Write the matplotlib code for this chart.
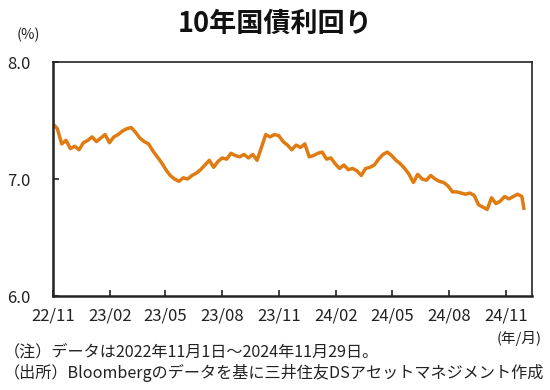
import matplotlib
matplotlib.use("Agg")
import matplotlib.pyplot as plt
import pandas as pd

plt.rcParams['font.family'] = ['Noto Sans CJK JP', 'DejaVu Sans']

title = "10年国債利回り"
unit_label = "(%)"
x_unit = "(年/月)"
note1 = "（注）データは2022年11月1日～2024年11月29日。"
note2 = "（出所）Bloombergのデータを基に三井住友DSアセットマネジメント作成"

# weekly readings starting 2022-11-01, last point 2024-11-29
yields_weekly = [
    7.47, 7.43, 7.30, 7.33, 7.26, 7.28, 7.25, 7.31, 7.33, 7.36,
    7.32, 7.35, 7.38, 7.31, 7.36, 7.38, 7.41, 7.43, 7.44, 7.40,
    7.35, 7.32, 7.30, 7.24, 7.19, 7.14, 7.08, 7.03, 7.00, 6.98,
    7.01, 7.00, 7.03, 7.05, 7.08, 7.12, 7.16, 7.10, 7.15, 7.18,
    7.17, 7.22, 7.20, 7.19, 7.21, 7.18, 7.21, 7.16, 7.27, 7.38,
    7.36, 7.38, 7.37, 7.32, 7.29, 7.25, 7.29, 7.27, 7.30, 7.19,
    7.20, 7.22, 7.23, 7.17, 7.18, 7.13, 7.09, 7.12, 7.08, 7.09,
    7.07, 7.03, 7.09, 7.10, 7.12, 7.17, 7.21, 7.23, 7.20, 7.16,
    7.13, 7.09, 7.04, 6.97, 7.04, 7.00, 6.99, 7.03, 7.00, 6.98,
    6.97, 6.94, 6.89, 6.89, 6.88, 6.87, 6.88, 6.86, 6.78, 6.76,
    6.74, 6.84, 6.79, 6.81, 6.85, 6.83, 6.85, 6.87, 6.85,
]
last_date = "2024-11-29"
last_value = 6.75

tick_months = ["2022-11-01", "2023-02-01", "2023-05-01", "2023-08-01",
               "2023-11-01", "2024-02-01", "2024-05-01", "2024-08-01",
               "2024-11-01"]
tick_labels = ["22/11", "23/02", "23/05", "23/08", "23/11",
               "24/02", "24/05", "24/08", "24/11"]
y_ticks = [6.0, 7.0, 8.0]

dates = list(pd.date_range("2022-11-01", periods=len(yields_weekly), freq="7D"))
dates.append(pd.Timestamp(last_date))
values = yields_weekly + [last_value]

fig = plt.figure(figsize=(5.5, 3.9), dpi=100)
ax = fig.add_axes([0.0964, 0.241, 0.8706, 0.600])

ax.plot(dates, values, color="#E07B12", lw=2.5, solid_joinstyle="round")

ax.set_ylim(6.0, 8.0)
ax.set_yticks(y_ticks)
ax.set_yticklabels([f"{v:.1f}" for v in y_ticks])
ax.set_xlim(pd.Timestamp("2022-11-01"), pd.Timestamp("2024-12-12"))
ax.set_xticks([pd.Timestamp(t) for t in tick_months])
ax.set_xticklabels(tick_labels)

for s in ax.spines.values():
    s.set_color("#222222")
    s.set_linewidth(1.2)
ax.spines['left'].set_linewidth(1.8)
ax.spines['bottom'].set_linewidth(1.8)

ax.tick_params(axis='y', direction='in', length=4, width=1.2, pad=16,
               labelsize=12, colors="#222222")
ax.tick_params(axis='x', direction='in', length=4, width=1.2, pad=8,
               labelsize=12, colors="#222222")

fig.text(0.5, 0.94, title, ha="center", va="center", fontsize=19.5,
         fontweight="bold", color="#111111")
fig.text(0.052, 0.91, unit_label, ha="center", va="center", fontsize=10.5,
         color="#222222")
fig.text(0.943, 0.132, x_unit, ha="center", va="center", fontsize=10.5,
         color="#222222")
fig.text(0.006, 0.097, note1, ha="left", va="center", fontsize=11.6,
         color="#222222")
fig.text(0.006, 0.044, note2, ha="left", va="center", fontsize=11.6,
         color="#222222")

fig.savefig("out.png", dpi=100)
